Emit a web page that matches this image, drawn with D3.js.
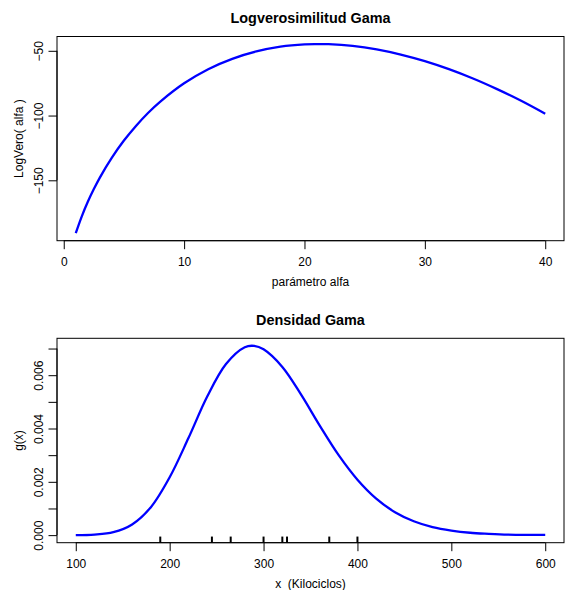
<!DOCTYPE html>
<html>
<head>
<meta charset="utf-8">
<script src="https://cdn.jsdelivr.net/npm/d3@7"></script>
<style>
  body { margin: 0; background: #fff; }
  text { font-family: "Liberation Sans", Arial, Helvetica, sans-serif; fill: #000; white-space: pre; }
</style>
</head>
<body>
<div id="chart"></div>
<script>
// top panel: log-likelihood against alfa
const alphaValues = [1, 1.5, 2, 2.5, 3, 4, 5, 6, 7, 8, 10, 12, 14, 16, 18, 20, 21, 22, 24, 26, 28, 30, 32, 34, 36, 38, 40];
const logVeroValues = [-190.8, -177.8, -166.6, -156.8, -147.9, -132.5, -119.3, -108.0, -98.0, -89.4, -75.1, -64.2, -56.2,
                       -50.5, -46.8, -45.0, -44.8, -44.9, -46.2, -48.9, -52.9, -58.0, -64.2, -71.4, -79.6, -88.6, -98.6];
const alphaTicks = [0, 10, 20, 30, 40];
const logVeroTicks = [-150, -100, -50];

// bottom panel: gamma density
const xValues = [100, 120, 140, 160, 180, 200, 220, 240, 260, 280, 290, 300, 320, 340, 360, 380, 400,
                 420, 440, 460, 480, 500, 520, 540, 560, 580, 600];
const densityValues = [0.00000, 0.00002, 0.00011, 0.00040, 0.00105, 0.00217, 0.00364, 0.00520, 0.00642, 0.00705,
                       0.00710, 0.00697, 0.00631, 0.00527, 0.00410, 0.00300, 0.00208, 0.00137, 0.00086, 0.00052,
                       0.00030, 0.00017, 0.00009, 0.00005, 0.00002, 0.00001, 0.00001];
const rugValues = [190, 245, 265, 300, 320, 325, 370, 400];
const xTicks = [100, 200, 300, 400, 500, 600];
const densityTicks = [0, 0.001, 0.002, 0.003, 0.004, 0.005, 0.006, 0.007];
const densityLabels = ['0.000', '', '0.002', '', '0.004', '', '0.006', ''];

const W = 566, H = 590;
const tickLen = 8.5;

const svg = d3.select('#chart').append('svg')
  .attr('width', W)
  .attr('height', H)
  .style('display', 'block');

svg.append('rect').attr('width', W).attr('height', H).attr('fill', '#fff');

// R style range: data extent widened by 4%
function rRange(vals) {
  const [lo, hi] = d3.extent(vals);
  const pad = (hi - lo) * 0.04;
  return [lo - pad, hi + pad];
}

function drawPanel(cfg) {
  const xScale = d3.scaleLinear().domain(rRange(cfg.x)).range([cfg.left, cfg.right]);
  const yScale = d3.scaleLinear().domain(rRange(cfg.y)).range([cfg.bottom, cfg.top]);

  const g = svg.append('g');

  // curve
  const pts = cfg.x.map((v, i) => [v, cfg.y[i]]);
  g.append('path')
    .datum(pts)
    .attr('fill', 'none')
    .attr('stroke', '#0000ff')
    .attr('stroke-width', 2.3)
    .attr('d', d3.line()
      .x(d => xScale(d[0]))
      .y(d => yScale(d[1]))
      .curve(d3.curveCatmullRom.alpha(0.5)));

  // rug
  if (cfg.rug) {
    const rugLen = (cfg.bottom - cfg.top) * 0.03;
    g.selectAll('.rug').data(cfg.rug).enter().append('line')
      .attr('x1', d => xScale(d)).attr('x2', d => xScale(d))
      .attr('y1', cfg.bottom).attr('y2', cfg.bottom - rugLen)
      .attr('stroke', '#000')
      .attr('stroke-width', 2);
  }

  // box
  g.append('rect')
    .attr('x', cfg.left).attr('y', cfg.top)
    .attr('width', cfg.right - cfg.left)
    .attr('height', cfg.bottom - cfg.top)
    .attr('fill', 'none')
    .attr('stroke', '#000')
    .attr('stroke-width', 1);

  // x axis
  const xAxis = g.append('g')
    .attr('transform', `translate(0,${cfg.bottom})`)
    .call(d3.axisBottom(xScale)
      .tickValues(cfg.xTicks)
      .tickFormat(d3.format('d'))
      .tickSizeOuter(0)
      .tickSize(tickLen)
      .tickPadding(8.6));
  xAxis.select('.domain').remove();
  xAxis.selectAll('.tick line').attr('stroke', '#000');
  xAxis.selectAll('.tick text').attr('font-size', 12).attr('font-family', null).attr('fill', '#000');
  xAxis.append('line')
    .attr('x1', xScale(cfg.xTicks[0])).attr('x2', xScale(cfg.xTicks[cfg.xTicks.length - 1]))
    .attr('stroke', '#000');

  // y axis, labels parallel to the axis
  const yAxis = g.append('g')
    .attr('transform', `translate(${cfg.left},0)`)
    .call(d3.axisLeft(yScale)
      .tickValues(cfg.yTicks)
      .tickFormat((d, i) => cfg.yLabels[i])
      .tickSizeOuter(0)
      .tickSize(tickLen));
  yAxis.select('.domain').remove();
  yAxis.selectAll('.tick line').attr('stroke', '#000');
  yAxis.selectAll('.tick text')
    .attr('font-size', 12).attr('font-family', null).attr('fill', '#000')
    .attr('x', null).attr('dy', null)
    .attr('text-anchor', 'middle')
    .attr('transform', 'translate(-13.8,0) rotate(-90)');
  yAxis.append('line')
    .attr('y1', yScale(cfg.yTicks[0])).attr('y2', yScale(cfg.yTicks[cfg.yTicks.length - 1]))
    .attr('stroke', '#000');

  const cx = (cfg.left + cfg.right) / 2;
  const cy = (cfg.top + cfg.bottom) / 2;

  // title
  g.append('text')
    .attr('x', cx).attr('y', cfg.top - 13.5)
    .attr('text-anchor', 'middle')
    .attr('font-size', 14.4)
    .attr('font-weight', 'bold')
    .text(cfg.title);

  // axis titles
  g.append('text')
    .attr('x', cx).attr('y', cfg.bottom + 45.3)
    .attr('text-anchor', 'middle')
    .attr('font-size', 12)
    .text(cfg.xLab);

  g.append('text')
    .attr('transform', `translate(${cfg.left - 34.5},${cy}) rotate(-90)`)
    .attr('text-anchor', 'middle')
    .attr('font-size', 12)
    .text(cfg.yLab);
}

drawPanel({
  left: 57, right: 564, top: 36.5, bottom: 240.7,
  x: alphaValues, y: logVeroValues,
  xTicks: alphaTicks, yTicks: logVeroTicks,
  yLabels: logVeroTicks.map(d => String(d).replace('-', '\u2212')),
  title: 'Logverosimilitud Gama',
  xLab: 'parámetro alfa',
  yLab: 'LogVero( alfa )'
});

drawPanel({
  left: 57, right: 564, top: 338.3, bottom: 542.7,
  x: xValues, y: densityValues,
  xTicks: xTicks, yTicks: densityTicks,
  yLabels: densityLabels,
  rug: rugValues,
  title: 'Densidad Gama',
  xLab: 'x  (Kilociclos)',
  yLab: 'g(x)'
});
</script>
</body>
</html>
